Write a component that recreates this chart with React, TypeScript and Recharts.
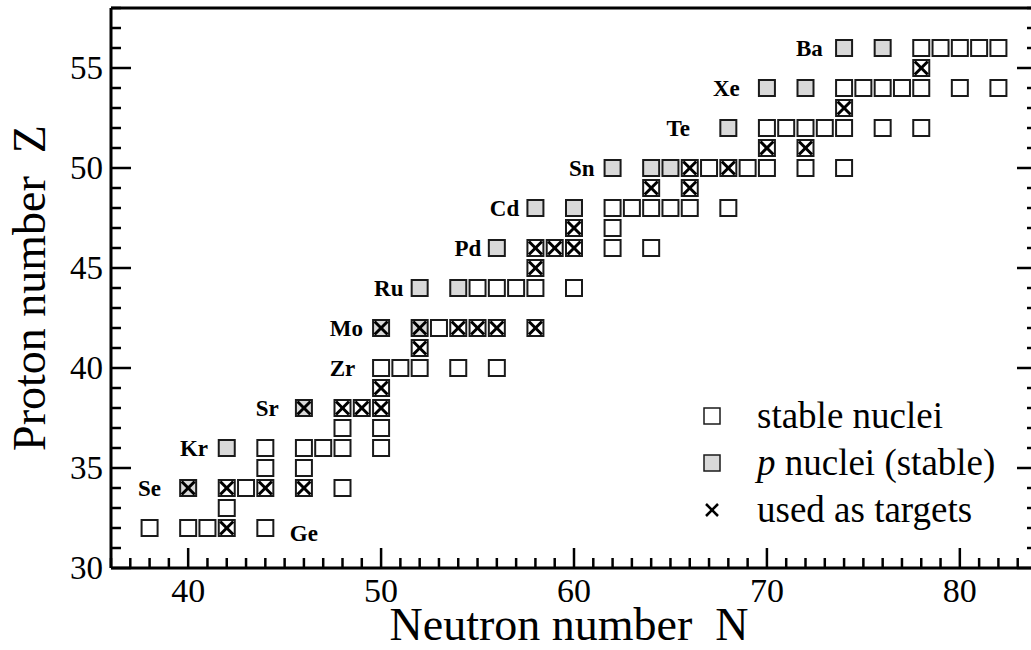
import { ScatterChart, Scatter, XAxis, YAxis, Legend, Label } from "recharts";

const SERIF = "Liberation Serif, Times New Roman, Times, serif";
const CHART_W = 1050;
const CHART_H = 650;

// stable isotopes, one row per element: [Z, neutron numbers]
const stableRows: [number, number[]][] = [
  [32, [38, 40, 41, 42, 44]],
  [33, [42]],
  [34, [42, 43, 44, 46, 48]],
  [35, [44, 46]],
  [36, [44, 46, 47, 48, 50]],
  [37, [48, 50]],
  [38, [48, 49, 50]],
  [39, [50]],
  [40, [50, 51, 52, 54, 56]],
  [41, [52]],
  [42, [53, 54, 55, 56, 58]],
  [44, [55, 56, 57, 58, 60]],
  [45, [58]],
  [46, [58, 59, 60, 62, 64]],
  [47, [60, 62]],
  [48, [62, 63, 64, 65, 66, 68]],
  [49, [64, 66]],
  [50, [66, 67, 68, 69, 70, 72, 74]],
  [51, [70, 72]],
  [52, [70, 71, 72, 73, 74, 76, 78]],
  [53, [74]],
  [54, [74, 75, 76, 77, 78, 80, 82]],
  [55, [78]],
  [56, [78, 79, 80, 81, 82]],
];

// p nuclei (also stable)
const pNucleiRows: [number, number[]][] = [
  [34, [40]],
  [36, [42]],
  [38, [46]],
  [42, [50, 52]],
  [44, [52, 54]],
  [46, [56]],
  [48, [58, 60]],
  [50, [62, 64, 65]],
  [52, [68]],
  [54, [70, 72]],
  [56, [74, 76]],
];

// isotopes used as targets
const targetRows: [number, number[]][] = [
  [32, [42]],
  [34, [40, 42, 44, 46]],
  [38, [46, 48, 49, 50]],
  [39, [50]],
  [41, [52]],
  [42, [50, 52, 54, 55, 56, 58]],
  [45, [58]],
  [46, [58, 59, 60]],
  [47, [60]],
  [49, [64, 66]],
  [50, [66, 68]],
  [51, [70, 72]],
  [53, [74]],
  [55, [78]],
];

const elementLabels = [
  { sym: "Ge", n: 46.0, z: 31.75 },
  { sym: "Se", n: 38.0, z: 34 },
  { sym: "Kr", n: 40.3, z: 36 },
  { sym: "Sr", n: 44.1, z: 38 },
  { sym: "Zr", n: 48.0, z: 40 },
  { sym: "Mo", n: 48.2, z: 42 },
  { sym: "Ru", n: 50.4, z: 44 },
  { sym: "Pd", n: 54.5, z: 46 },
  { sym: "Cd", n: 56.4, z: 48 },
  { sym: "Sn", n: 60.4, z: 50 },
  { sym: "Te", n: 65.4, z: 52 },
  { sym: "Xe", n: 67.9, z: 54 },
  { sym: "Ba", n: 72.2, z: 56 },
];

const xDomain: [number, number] = [36, 84];
const yDomain: [number, number] = [30, 58];
const xMajorTicks = [40, 50, 60, 70, 80];
const yMajorTicks = [30, 35, 40, 45, 50, 55];

const toPoints = (rows: [number, number[]][]) =>
  rows.flatMap(([z, ns]) => ns.map((n) => ({ n, z })));

const stableData = toPoints(stableRows);
const pNucleiData = toPoints(pNucleiRows);
const targetData = toPoints(targetRows);

const unitTicks = (lo: number, hi: number) => {
  const out: number[] = [];
  for (let v = lo; v <= hi; v++) out.push(v);
  return out;
};
const xTicks = unitTicks(xDomain[0], xDomain[1]);
const yTicks = unitTicks(yDomain[0], yDomain[1]);

const TICK_W = 2.5;
const MAJOR = 20;
const MINOR = 10;

const BottomTick = ({ x, y, payload }: any) => {
  const major = xMajorTicks.includes(payload.value);
  return (
    <g>
      <line x1={x} x2={x} y1={y} y2={y - (major ? MAJOR : MINOR)} stroke="#000" strokeWidth={TICK_W} />
      {major && (
        <text x={x} y={y + 34} textAnchor="middle" style={{ fontFamily: SERIF, fontSize: 34 }} fill="#000">
          {payload.value}
        </text>
      )}
    </g>
  );
};

const TopTick = ({ x, y, payload }: any) => {
  const major = xMajorTicks.includes(payload.value);
  return <line x1={x} x2={x} y1={y} y2={y + (major ? MAJOR : MINOR)} stroke="#000" strokeWidth={TICK_W} />;
};

const LeftTick = ({ x, y, payload }: any) => {
  const major = yMajorTicks.includes(payload.value);
  return (
    <g>
      <line x1={x} x2={x + (major ? MAJOR : MINOR)} y1={y} y2={y} stroke="#000" strokeWidth={TICK_W} />
      {major && (
        <text x={x - 8} y={y + 11} textAnchor="end" style={{ fontFamily: SERIF, fontSize: 33 }} fill="#000">
          {payload.value}
        </text>
      )}
    </g>
  );
};

const RightTick = ({ x, y, payload }: any) => {
  const major = yMajorTicks.includes(payload.value);
  return <line x1={x} x2={x - (major ? MAJOR : MINOR)} y1={y} y2={y} stroke="#000" strokeWidth={TICK_W} />;
};

const Square = (fill: string) => (props: any) => {
  const { cx, cy } = props;
  return <rect x={cx - 8} y={cy - 8} width={16} height={16} fill={fill} stroke="#1a1a1a" strokeWidth={2} />;
};

const Cross = (props: any) => {
  const { cx, cy } = props;
  const d = 6.5;
  return (
    <g stroke="#000" strokeWidth={3}>
      <line x1={cx - d} y1={cy - d} x2={cx + d} y2={cy + d} />
      <line x1={cx - d} y1={cy + d} x2={cx + d} y2={cy - d} />
    </g>
  );
};

const ElementLabel = (props: any) => (
  <text
    x={props.cx}
    y={props.cy + 8}
    textAnchor="middle"
    style={{ fontFamily: SERIF, fontWeight: "bold", fontSize: 23 }}
    fill="#000"
  >
    {props.payload.sym}
  </text>
);

const legendRows = [
  { key: "stable", text: <>stable nuclei</> },
  { key: "p", text: <><i>p</i> nuclei (stable)</> },
  { key: "target", text: <>used as targets</> },
];

const LegendIcon = ({ kind }: { kind: string }) => (
  <svg width={24} height={24}>
    {kind === "target" ? (
      <g stroke="#000" strokeWidth={2.5}>
        <line x1={6} y1={6} x2={18} y2={18} />
        <line x1={6} y1={18} x2={18} y2={6} />
      </g>
    ) : (
      <rect x={4} y={4} width={16} height={16} fill={kind === "p" ? "#d9d9d9" : "#fff"} stroke="#1a1a1a" strokeWidth={1.5} />
    )}
  </svg>
);

const NuclideLegend = () => (
  <div style={{ fontFamily: SERIF, fontSize: 37, color: "#000" }}>
    {legendRows.map((r) => (
      <div key={r.key} style={{ display: "flex", alignItems: "center", height: 47, whiteSpace: "nowrap" }}>
        <div style={{ width: 57, display: "flex" }}>
          <LegendIcon kind={r.key} />
        </div>
        <span>{r.text}</span>
      </div>
    ))}
  </div>
);

export default function App() {
  return (
    <div
      style={{
        position: "fixed",
        left: 0,
        top: 0,
        width: 1031,
        height: 650,
        overflow: "hidden",
        background: "#fff",
        fontFamily: SERIF,
      }}
    >
      <ScatterChart width={CHART_W} height={CHART_H} margin={{ top: 7, right: 12, bottom: 0, left: 0 }}>
        <XAxis
          xAxisId="bottom"
          dataKey="n"
          type="number"
          domain={xDomain}
          ticks={xTicks}
          interval={0}
          allowDataOverflow
          height={82}
          tickSize={0}
          tickMargin={0}
          tickLine={false}
          tick={<BottomTick />}
          axisLine={{ stroke: "#000", strokeWidth: 3 }}
        >
          <Label
            content={() => (
              <text x={569} y={640} textAnchor="middle" style={{ fontFamily: SERIF, fontSize: 46 }} fill="#000">
                Neutron number{"\u00a0\u00a0"}N
              </text>
            )}
          />
        </XAxis>
        <XAxis
          xAxisId="top"
          orientation="top"
          type="number"
          domain={xDomain}
          ticks={xTicks}
          interval={0}
          allowDataOverflow
          height={1}
          tickSize={0}
          tickMargin={0}
          tickLine={false}
          tick={<TopTick />}
          axisLine={{ stroke: "#000", strokeWidth: 3 }}
        />
        <YAxis
          yAxisId="left"
          dataKey="z"
          type="number"
          domain={yDomain}
          ticks={yTicks}
          interval={0}
          allowDataOverflow
          width={111}
          tickSize={0}
          tickMargin={0}
          tickLine={false}
          tick={<LeftTick />}
          axisLine={{ stroke: "#000", strokeWidth: 3 }}
        >
          <Label
            content={() => (
              <text
                x={45}
                y={288}
                transform="rotate(-90 45 288)"
                textAnchor="middle"
                style={{ fontFamily: SERIF, fontSize: 46 }}
                fill="#000"
              >
                Proton number{"\u00a0\u00a0"}Z
              </text>
            )}
          />
        </YAxis>
        <YAxis
          yAxisId="right"
          orientation="right"
          type="number"
          domain={yDomain}
          ticks={yTicks}
          interval={0}
          allowDataOverflow
          width={1}
          tickSize={0}
          tickMargin={0}
          tickLine={false}
          tick={<RightTick />}
          axisLine={{ stroke: "#000", strokeWidth: 3 }}
        />
        <Legend
          layout="vertical"
          align="center"
          verticalAlign="middle"
          wrapperStyle={{ left: 700, top: 392, width: 330 }}
          content={() => <NuclideLegend />}
        />
        <Scatter
          name="stable nuclei"
          data={stableData}
          xAxisId="bottom"
          yAxisId="left"
          shape={Square("#ffffff")}
          isAnimationActive={false}
        />
        <Scatter
          name="p nuclei"
          data={pNucleiData}
          xAxisId="bottom"
          yAxisId="left"
          shape={Square("#d9d9d9")}
          isAnimationActive={false}
        />
        <Scatter
          name="used as targets"
          data={targetData}
          xAxisId="bottom"
          yAxisId="left"
          shape={Cross}
          isAnimationActive={false}
        />
        <Scatter
          name="elements"
          data={elementLabels}
          xAxisId="bottom"
          yAxisId="left"
          shape={ElementLabel}
          isAnimationActive={false}
        />
      </ScatterChart>
    </div>
  );
}
